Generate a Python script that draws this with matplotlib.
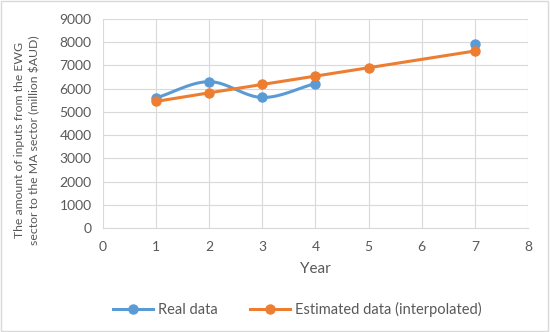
import matplotlib
matplotlib.use("Agg")
import matplotlib.pyplot as plt
import numpy as np

plt.rcParams['font.family'] = ['Lato', 'DejaVu Sans']

years_real = [1, 2, 3, 4, 7]
real = [5600, 6300, 5620, 6220, 7920]
years_est = [1, 2, 3, 4, 5, 7]
estimated = [5450, 5820, 6180, 6540, 6900, 7620]

blue = '#5B9BD5'
orange = '#ED7D31'
grey = '#595959'


def catmull_rom(x, y, n=30):
    # smoothed line like Excel's "smoothed line" option
    x = np.asarray(x, float)
    y = np.asarray(y, float)
    px = np.concatenate([[2 * x[0] - x[1]], x, [2 * x[-1] - x[-2]]])
    py = np.concatenate([[2 * y[0] - y[1]], y, [2 * y[-1] - y[-2]]])
    xs, ys = [], []
    for i in range(1, len(px) - 2):
        t = np.linspace(0, 1, n)
        for p, out in ((px, xs), (py, ys)):
            p0, p1, p2, p3 = p[i - 1], p[i], p[i + 1], p[i + 2]
            out.extend(0.5 * ((2 * p1) + (-p0 + p2) * t
                              + (2 * p0 - 5 * p1 + 4 * p2 - p3) * t ** 2
                              + (-p0 + 3 * p1 - 3 * p2 + p3) * t ** 3))
    return np.array(xs), np.array(ys)


fig = plt.figure(figsize=(5.5, 3.32), dpi=100)
ax = fig.add_axes([0.187, 0.313, 0.773, 0.63])

# real data: smooth line through consecutive years, gap before year 7
sx, sy = catmull_rom(years_real[:4], real[:4])
ax.plot(sx, sy, color=blue, lw=2.2, zorder=3)
ax.plot(years_real, real, 'o', color=blue, ms=6.5, zorder=4)
ax.plot([], [], '-o', color=blue, lw=2.2, ms=6.5, label='Real data')

ax.plot(years_est, estimated, '-o', color=orange, lw=2.2, ms=6.5, zorder=5,
        label='Estimated data (interpolated)')

ax.set_xlim(0, 8)
ax.set_ylim(0, 9000)
ax.set_xticks(range(0, 9))
ax.set_yticks(range(0, 9001, 1000))
ax.grid(True, color='#D9D9D9', lw=0.8)
ax.set_axisbelow(True)
for s in ['top', 'right', 'left']:
    ax.spines[s].set_visible(False)
ax.spines['bottom'].set_color('#D9D9D9')
ax.tick_params(axis='both', length=0, labelsize=10, colors=grey)
ax.tick_params(axis='x', pad=9)
ax.tick_params(axis='y', pad=8)

ax.set_xlabel('Year', fontsize=11, color=grey, labelpad=7)
ax.set_ylabel('The amount of inputs from the EWG\nsector to the MA sector (million $AUD)',
              fontsize=8.8, color=grey, linespacing=1.45)
ax.yaxis.set_label_coords(-0.148, 0.42)

fig.legend(loc='lower center', bbox_to_anchor=(0.54, 0.005), ncol=2, frameon=False,
           fontsize=10.5, labelcolor=grey, handlelength=2.8, handletextpad=0.3,
           columnspacing=2.2)

fig.patches.append(plt.Rectangle((0.002, 0.003), 0.995, 0.993, transform=fig.transFigure,
                                 fill=False, edgecolor='#D9D9D9', lw=1))

fig.savefig('out.png', dpi=100)
